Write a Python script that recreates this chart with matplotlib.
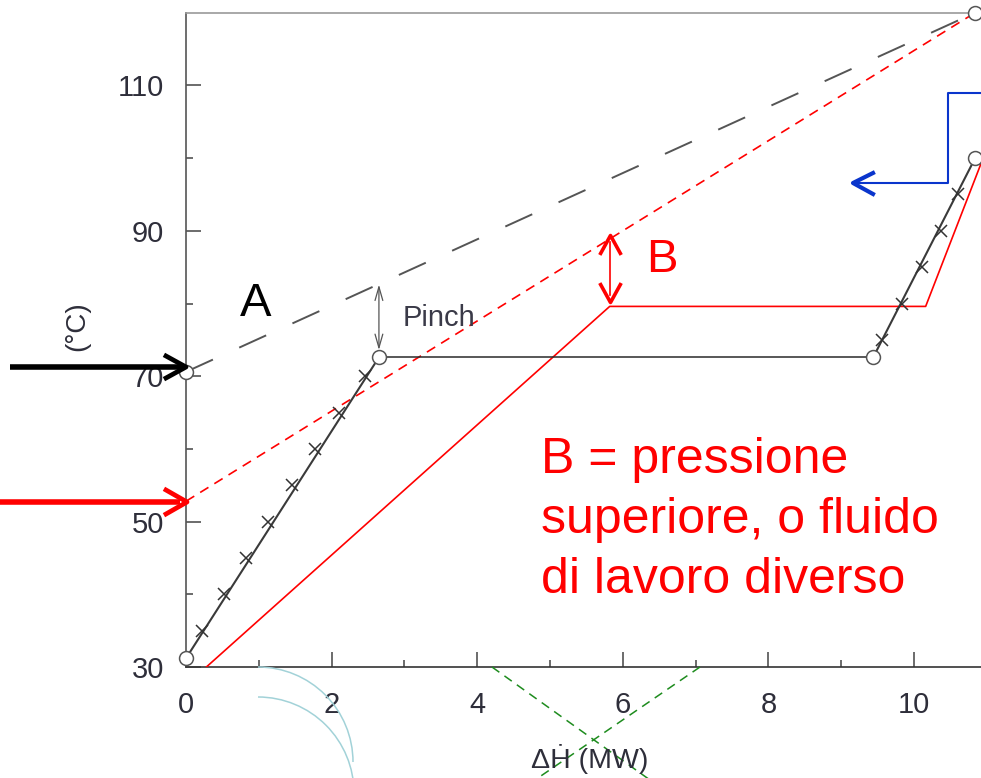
import matplotlib
matplotlib.use('Agg')
import matplotlib.pyplot as plt
from matplotlib.patches import Arc
from matplotlib.path import Path

plt.rcParams['font.family'] = ['Liberation Sans', 'DejaVu Sans']
plt.rcParams['lines.scale_dashes'] = False

# ---------------- data ----------------
# stream A (black solid curve with crosses)
a_seg1_x = [0.0, 2.65]
a_seg1_T = [31.2, 72.6]
a_flat_x = [2.65, 9.44]
a_flat_T = [72.6, 72.6]
a_seg2_x = [9.44, 10.84]
a_seg2_T = [72.6, 100.0]
a_cross1_x = [0.22, 0.52, 0.82, 1.13, 1.46, 1.77, 2.10, 2.46]
a_cross1_T = [35, 40, 45, 50, 55, 60, 65, 70]
a_cross2_x = [9.56, 9.84, 10.11, 10.37, 10.60]
a_cross2_T = [75, 80, 85, 90, 95]
# open circles
circ_x = [0.0, 2.65, 9.44, 10.84, 0.0, 10.84]
circ_T = [31.2, 72.6, 72.6, 100.0, 70.6, 120.0]
# grey long-dashed line (A)
gdash_x = [0.0, 10.84]
gdash_T = [70.6, 120.0]
# red short-dashed line (B)
rdash_x = [0.0, 10.84]
rdash_T = [52.8, 120.0]
# red solid curve (B)
rsol_x = [0.28, 5.82, 10.16, 11.0]
rsol_T = [30.0, 79.6, 79.6, 101.3]
# arrows in data coords
pinch_x, pinch_T0, pinch_T1 = 2.65, 73.6, 82.6
barr_x, barr_T0, barr_T1 = 5.82, 80.2, 89.4

xticks_major = [0, 2, 4, 6, 8, 10]
xticks_minor = [1, 3, 5, 7, 9]
yticks_major = [30, 50, 70, 90, 110]
yticks_minor = [40, 60, 80, 100]

W, H = 981, 778
fig = plt.figure(figsize=(W / 100, H / 100), dpi=100)
ax = fig.add_axes([186 / W, (H - 667) / H, 800.8 / W, 654.3 / H])
ax.set_xlim(0, 11)
ax.set_ylim(30, 120)

lab_col = '#2e2e3a'
ax.set_xticks(xticks_major)
ax.set_xticks(xticks_minor, minor=True)
ax.set_yticks(yticks_major)
ax.set_yticks(yticks_minor, minor=True)
ax.tick_params(which='both', direction='in', colors='#444444', width=1.1,
               labelcolor=lab_col, labelsize=21)
ax.tick_params(which='major', length=10.8)
ax.tick_params(which='minor', length=5)
ax.tick_params(axis='y', pad=16)
ax.tick_params(axis='x', pad=17)
ax.spines['right'].set_visible(False)
ax.spines['left'].set_color('#555555')
ax.spines['bottom'].set_color('#333333')
ax.spines['top'].set_color('#9a9a9a')
for s in ['left', 'bottom', 'top']:
    ax.spines[s].set_linewidth(1.2)

# lines
ax.plot(gdash_x, gdash_T, color='#555555', lw=1.4, dashes=(21.3, 20.8), zorder=2)
ax.plot(rdash_x, rdash_T, color='red', lw=1.2, dashes=(7.0, 5.0), zorder=2)
ax.plot(rsol_x, rsol_T, color='red', lw=1.2, zorder=3)
ax.plot(a_seg1_x, a_seg1_T, color='#3a3a3a', lw=1.5, zorder=3)
ax.plot(a_flat_x, a_flat_T, color='#2a2a2a', lw=1.1, zorder=3)
ax.plot(a_seg2_x, a_seg2_T, color='#3a3a3a', lw=1.5, zorder=3)
ax.plot(a_cross1_x, a_cross1_T, 'x', color='#333333', ms=8.5, mew=1.1, zorder=4)
ax.plot(a_cross2_x, a_cross2_T, 'x', color='#333333', ms=8.5, mew=1.1, zorder=4)
ax.plot(circ_x, circ_T, 'o', ms=10, mfc='white', mec='#555555', mew=1.1,
        zorder=5, clip_on=False)

# pinch arrow
ax.annotate('', xy=(pinch_x, pinch_T1), xytext=(pinch_x, pinch_T0),
            arrowprops=dict(arrowstyle='<->,head_length=0.7,head_width=0.2',
                            color='#555555', lw=0.9, shrinkA=0, shrinkB=0,
                            mutation_scale=14), zorder=6)
# B arrow: thin shaft, thick chevron heads
ax.plot([barr_x, barr_x], [barr_T0 + 1.0, barr_T1 - 1.0], color='red', lw=1.2, zorder=6)
up_chev = Path([(-0.55, -1.0), (0, 0), (0.55, -1.0)],
               [Path.MOVETO, Path.LINETO, Path.LINETO])
dn_chev = Path([(-0.55, 1.0), (0, 0), (0.55, 1.0)],
               [Path.MOVETO, Path.LINETO, Path.LINETO])
ax.plot([barr_x], [barr_T1], marker=up_chev, ms=28, mfc='none', mec='red',
        mew=2.6, zorder=6)
ax.plot([barr_x], [barr_T0], marker=dn_chev, ms=28, mfc='none', mec='red',
        mew=2.6, zorder=6)

# labels in axes
ax.text(0.96, 79.9, 'A', fontsize=34, color='black', ha='center', va='center')
ax.text(6.54, 86.0, 'B', fontsize=34, color='red', ha='center', va='center')
ax.text(2.97, 78.0, 'Pinch', fontsize=21, color='#3a3a48', ha='left', va='center')

# ---------------- overlay (figure pixels, y down) ----------------
ov = fig.add_axes([0, 0, 1, 1], zorder=10)
ov.set_xlim(0, W)
ov.set_ylim(H, 0)
ov.axis('off')
ov.patch.set_alpha(0)

ov.text(77, 326, '(°C)', rotation=90, fontsize=20, color=lab_col,
        ha='center', va='center')
ov.text(590, 768, 'ΔḢ (MW)', fontsize=20.5, color=lab_col, ha='center', va='baseline')

para_lines = ['B = pressione', 'superiore, o fluido', 'di lavoro diverso']
para_base = [473, 533, 593]
for t, yb in zip(para_lines, para_base):
    ov.text(541, yb, t, fontsize=36, color='red', ha='left', va='baseline')

# black inlet arrow
ov.plot([10, 182], [367, 367], color='black', lw=4.0, solid_capstyle='butt')
ov.plot([166, 186, 166], [356, 367, 378], color='black', lw=3.4)
# red inlet arrow
ov.plot([0, 180], [502, 502], color='red', lw=4.0, solid_capstyle='butt')
ov.plot([166, 187, 166], [490, 502, 514], color='red', lw=3.4)
# blue arrow
blue = '#0a35cc'
ov.plot([985, 948, 948, 858], [93, 93, 183, 183], color=blue, lw=1.5)
ov.plot([873, 853, 873], [173, 183, 194], color=blue, lw=3.0)

# decorative arcs and green dashed cross
arc_col = '#a2d2d8'
ov.add_patch(Arc((258, 762), 190, 190, theta1=270, theta2=360, color=arc_col, lw=1.1))
ov.add_patch(Arc((258, 793), 192, 192, theta1=270, theta2=360, color=arc_col, lw=1.1))
ov.plot([492, 650], [667, 780], color='#1e8c1e', lw=1.1, dashes=(6.5, 4.5))
ov.plot([700, 535], [667, 780], color='#1e8c1e', lw=1.1, dashes=(6.5, 4.5))

fig.savefig('out.png', dpi=100)
